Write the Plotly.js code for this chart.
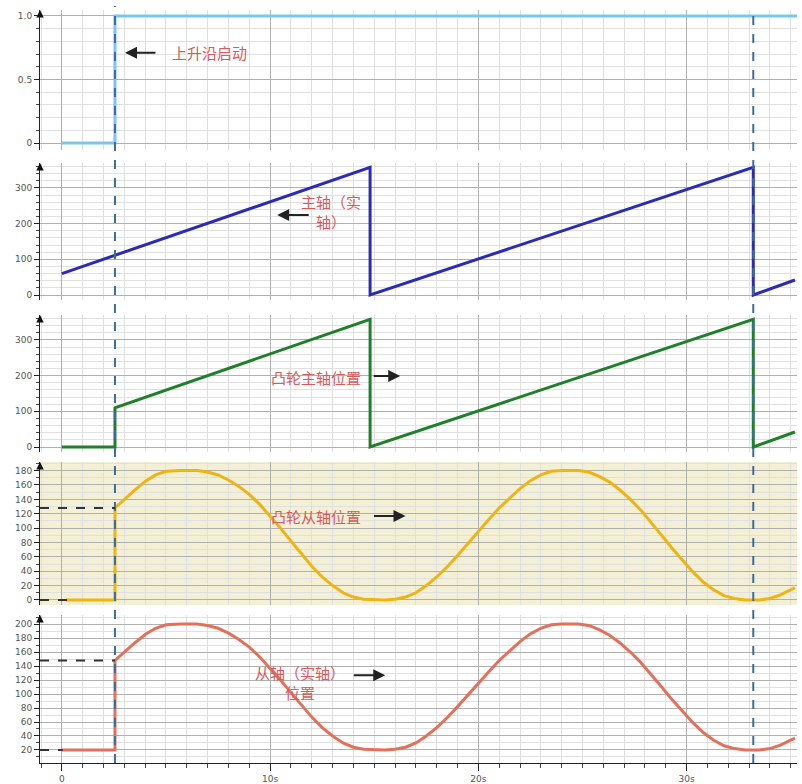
<!DOCTYPE html>
<html>
<head>
<meta charset="utf-8">
<script src="https://cdn.plot.ly/plotly-3.0.1.min.js"></script>
<style>html,body{margin:0;padding:0;background:#fff;}#chart{width:802px;height:784px;}</style>
</head>
<body>
<div id="chart"></div>
<script>
// ---------- data ----------
// panel 1: start signal (rising edge)
const tStart = [0, 2.55, 2.55, 35.3];
const startVals = [0, 0, 1, 1];

// panel 2: master axis (real axis) position
const tMaster = [0, 14.8, 14.8, 33.2, 33.2, 35.2];
const masterVals = [60, 358, 0, 358, 0, 42];

// panel 3: cam master position
const tCamMaster = [0, 2.55, 2.55, 14.8, 14.8, 33.2, 33.2, 35.2];
const camMasterVals = [0, 0, 110, 358, 0, 358, 0, 42];

// panel 4: cam slave position
const tCamSlave = [0.2, 2.55, 2.55, 3.0, 3.5, 4.0, 4.5, 5.0, 5.7, 6.5, 7.0, 7.5, 8.0, 8.5, 9.0, 9.5, 10.0, 10.5, 11.0, 11.5, 12.0, 12.5, 13.0, 13.5, 14.0, 14.5, 15.5, 16.0, 16.5, 17.0, 17.5, 18.0, 18.5, 19.0, 19.5, 20.0, 20.5, 21.0, 21.5, 22.0, 22.5, 23.0, 23.5, 24.0, 24.8, 25.3, 25.8, 26.3, 26.8, 27.3, 27.8, 28.3, 28.8, 29.3, 29.8, 30.3, 30.8, 31.3, 31.8, 32.3, 32.8, 33.5, 34.0, 34.5, 35.2];
const camSlaveVals = [0, 0, 128, 140, 153, 165, 174, 179, 180, 180, 178, 174, 167, 158, 147, 133, 117, 100, 82, 64, 47, 32, 20, 10, 4, 1, 0, 1, 4, 10, 20, 32, 46, 62, 79, 96, 112, 128, 142, 155, 166, 174, 179, 180, 180, 178, 172, 164, 153, 140, 125, 108, 90, 72, 55, 39, 25, 14, 6, 2, 0, 0, 2, 7, 17];

// panel 5: slave (real axis) position
const tSlave = [0, 2.55, 2.55, 3.0, 3.5, 4.0, 4.5, 5.0, 5.7, 6.5, 7.0, 7.5, 8.0, 8.5, 9.0, 9.5, 10.0, 10.5, 11.0, 11.5, 12.0, 12.5, 13.0, 13.5, 14.0, 14.5, 15.5, 16.0, 16.5, 17.0, 17.5, 18.0, 18.5, 19.0, 19.5, 20.0, 20.5, 21.0, 21.5, 22.0, 22.5, 23.0, 23.5, 24.0, 24.8, 25.3, 25.8, 26.3, 26.8, 27.3, 27.8, 28.3, 28.8, 29.3, 29.8, 30.3, 30.8, 31.3, 31.8, 32.3, 32.8, 33.5, 34.0, 34.5, 35.2];
const slaveVals = [20, 20, 148, 160, 173, 185, 194, 199, 200, 200, 198, 194, 187, 178, 167, 153, 137, 120, 102, 84, 67, 52, 40, 30, 24, 21, 20, 21, 24, 30, 40, 52, 66, 82, 99, 116, 132, 148, 162, 175, 186, 194, 199, 200, 200, 198, 192, 184, 173, 160, 145, 128, 110, 92, 75, 59, 45, 34, 26, 22, 20, 20, 22, 27, 37];

// tick labels
const xTickVals = [0, 10, 20, 30];
const xTickText = ['0', '10s', '20s', '30s'];
const y1TickVals = [0, 0.5, 1.0];
const y1TickText = ['0', '0.5', '1.0'];
const posTickVals = [0, 100, 200, 300];
const camSlaveTicks = [0, 20, 40, 60, 80, 100, 120, 140, 160, 180];
const slaveTicks = [20, 40, 60, 80, 100, 120, 140, 160, 180, 200];

// event times (dashed markers)
const trigTimes = [2.55, 33.2];
const camSlaveStartVal = 128;
const slaveStartVal = 148;

// ---------- styling ----------
const majorGrid = '#b0b0b0';
const minorGrid = '#e0e0e0';
const tickFont = {family: 'DejaVu Sans, Arial, sans-serif', size: 9, color: '#555'};
const noteFont = {family: 'Noto Sans CJK SC, sans-serif', size: 15, color: '#d85a5a'};

function yAxis(domain, range, tickvals, ticktext, minorDtick) {
  return {
    domain: domain, range: range, anchor: 'x',
    tickmode: 'array', tickvals: tickvals, ticktext: ticktext,
    showline: true, linecolor: '#222', linewidth: 1,
    ticks: 'outside', ticklen: 5, tickcolor: '#222',
    showgrid: true, gridcolor: majorGrid, gridwidth: 1,
    zeroline: false, tickfont: tickFont, fixedrange: true,
    minor: {dtick: minorDtick, ticks: 'outside', ticklen: 3, tickcolor: '#444', showgrid: true, gridcolor: minorGrid}
  };
}

const line = (x, y, ya, color, w) => ({
  x: x, y: y, yaxis: ya, xaxis: 'x', type: 'scatter', mode: 'lines',
  line: {color: color, width: w}, hoverinfo: 'skip', showlegend: false
});

const traces = [
  line(tStart, startVals, 'y', '#7cc6ee', 3),
  line(tMaster, masterVals, 'y2', '#2b2bb3', 3),
  line(tCamMaster, camMasterVals, 'y3', '#1f7f2a', 3),
  line(tCamSlave, camSlaveVals, 'y4', '#efb413', 3),
  line(tSlave, slaveVals, 'y5', '#e4705c', 3)
];

const shapes = [
  // yellow background of panel 4
  {type: 'rect', xref: 'paper', yref: 'y4 domain', x0: 0, x1: 1, y0: 0, y1: 1,
   fillcolor: '#f3f0d6', line: {width: 0}, layer: 'below'},
  // vertical dashed trigger lines
  {type: 'line', xref: 'x', yref: 'paper', x0: trigTimes[0], x1: trigTimes[0], y0: 0, y1: 0.992,
   line: {color: '#3b6d9f', width: 2, dash: 'dash'}},
  {type: 'line', xref: 'x', yref: 'paper', x0: trigTimes[1], x1: trigTimes[1], y0: 0, y1: 0.985,
   line: {color: '#3b6d9f', width: 2, dash: 'dash'}},
  // horizontal black dashed helper lines
  {type: 'line', xref: 'x', yref: 'y4', x0: -1.05, x1: trigTimes[0], y0: camSlaveStartVal, y1: camSlaveStartVal,
   line: {color: '#333', width: 2, dash: 'dash'}},
  {type: 'line', xref: 'paper', yref: 'y4', x0: 0, x1: 0.04, y0: 0, y1: 0,
   line: {color: '#333', width: 2, dash: 'dash'}},
  {type: 'line', xref: 'x', yref: 'y5', x0: -1.05, x1: trigTimes[0], y0: slaveStartVal, y1: slaveStartVal,
   line: {color: '#333', width: 2, dash: 'dash'}},
  {type: 'line', xref: 'paper', yref: 'y5', x0: 0, x1: 0.03, y0: 20, y1: 20,
   line: {color: '#333', width: 2, dash: 'dash'}}
];

const txt = (x, y, ya, text) => ({x: x, y: y, xref: 'x', yref: ya, text: text, showarrow: false,
  font: noteFont, xanchor: 'center', yanchor: 'middle', align: 'center'});
const arrow = (x, y, ya, ax) => ({x: x, y: y, xref: 'x', yref: ya, ax: ax, ay: 0, text: '',
  showarrow: true, arrowhead: 2, arrowsize: 1.2, arrowwidth: 2, arrowcolor: '#222'});
const upArrow = (ya) => ({x: 0, y: 1, xref: 'paper', yref: ya + ' domain', ax: 0, ay: 8, text: '',
  showarrow: true, arrowhead: 2, arrowsize: 1, arrowwidth: 1.5, arrowcolor: '#111', standoff: 0});

const annotations = [
  txt(7.1, 0.71, 'y', '上升沿启动'), arrow(3.03, 0.71, 'y', 32),
  txt(12.9, 234, 'y2', '主轴（实<br>轴）'), arrow(10.34, 224, 'y2', 33),
  txt(12.2, 196, 'y3', '凸轮主轴位置'), arrow(16.25, 199, 'y3', -28),
  txt(12.2, 116, 'y4', '凸轮从轴位置'), arrow(16.5, 117, 'y4', -33),
  txt(11.45, 116, 'y5', '从轴（实轴）<br>位置'), arrow(15.53, 127, 'y5', -33),
  upArrow('y'), upArrow('y2'), upArrow('y3'), upArrow('y4'), upArrow('y5')
];

const layout = {
  width: 802, height: 784,
  margin: {l: 40, r: 5, t: 0, b: 21, pad: 0},
  paper_bgcolor: '#ffffff', plot_bgcolor: 'rgba(0,0,0,0)',
  showlegend: false,
  xaxis: {
    domain: [0, 1], range: [-1.05, 35.3], anchor: 'y5',
    tickmode: 'array', tickvals: xTickVals, ticktext: xTickText,
    showline: true, linecolor: '#222', linewidth: 1,
    ticks: 'outside', ticklen: 7, tickcolor: '#222',
    showgrid: true, gridcolor: majorGrid, zeroline: false,
    tickfont: tickFont, fixedrange: true,
    minor: {dtick: 1, ticks: 'outside', ticklen: 4, tickcolor: '#444', showgrid: true, gridcolor: minorGrid}
  },
  yaxis: yAxis([0.8034, 0.9869], [-0.055, 1.047], y1TickVals, y1TickText, 0.1),
  yaxis2: yAxis([0.6068, 0.7864], [-14, 370], posTickVals, posTickVals.map(String), 20),
  yaxis3: yAxis([0.4076, 0.5872], [-14, 370], posTickVals, posTickVals.map(String), 20),
  yaxis4: yAxis([0.2071, 0.3945], [-7, 192], camSlaveTicks, camSlaveTicks.map(String), 10),
  yaxis5: yAxis([0, 0.1940], [1.4, 213], slaveTicks, slaveTicks.map(String), 10),
  shapes: shapes,
  annotations: annotations
};

Plotly.newPlot('chart', traces, layout, {staticPlot: true, displayModeBar: false});
</script>
</body>
</html>
